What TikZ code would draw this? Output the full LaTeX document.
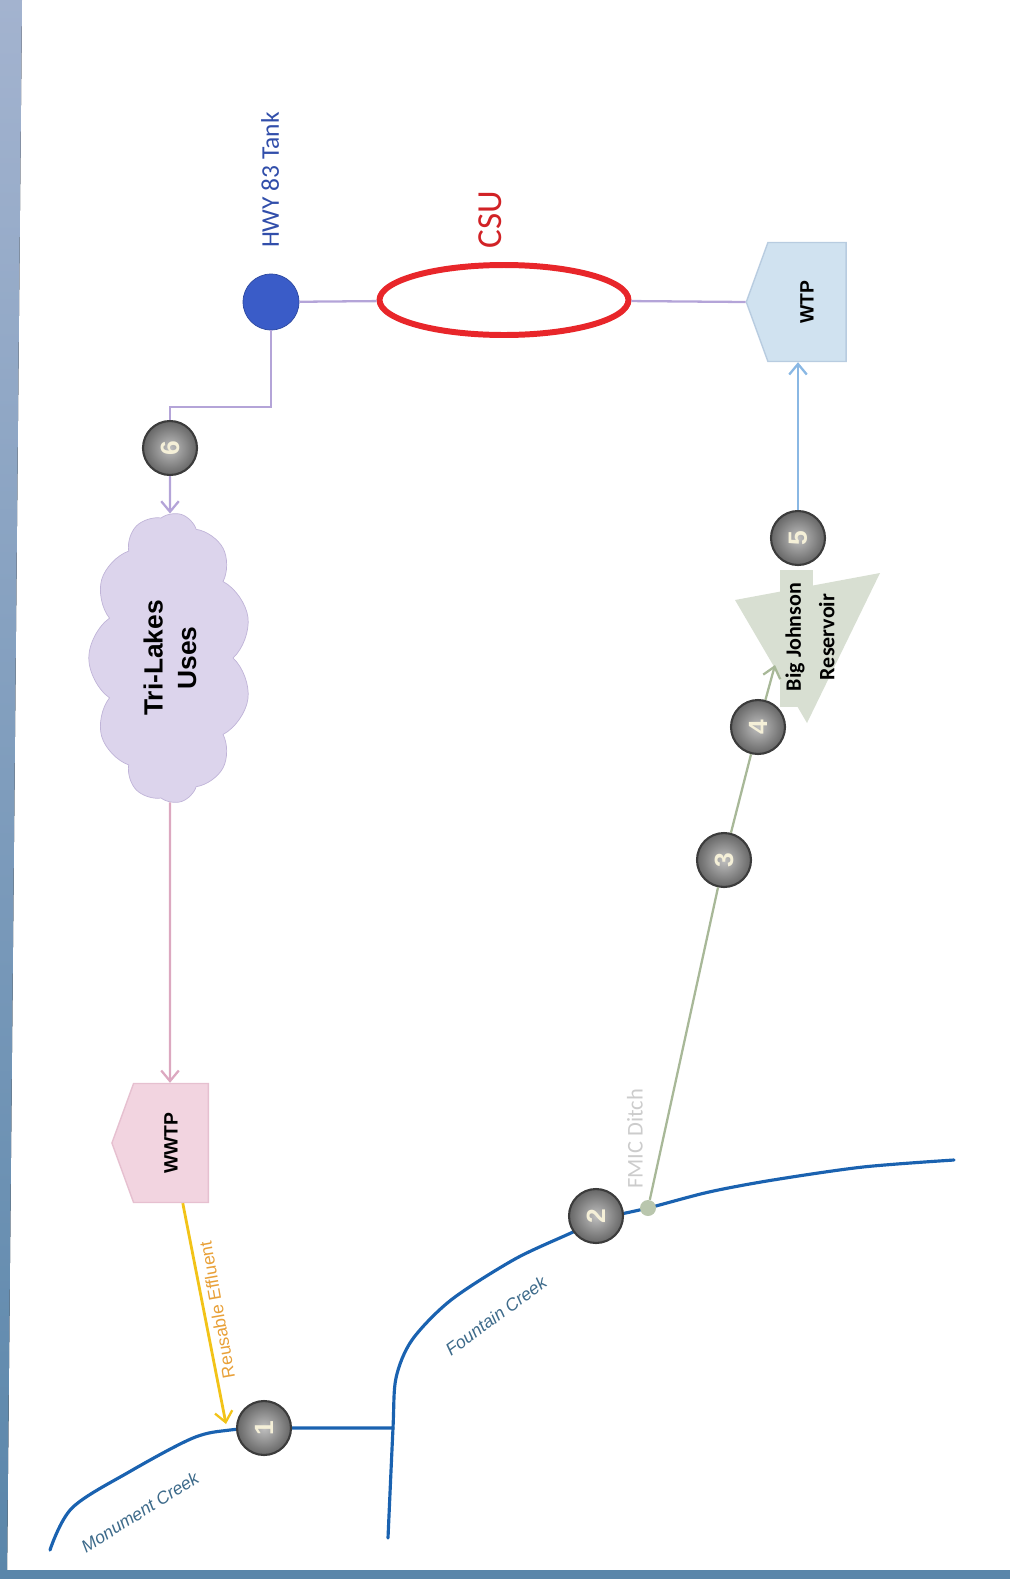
\documentclass[tikz,border=0pt]{standalone}
\usepackage{fontspec}
\setmainfont{Liberation Sans}
\newfontfamily\calib{Carlito}
\usetikzlibrary{shapes.geometric,shapes.symbols,arrows.meta}

\definecolor{framtop}{HTML}{A3B3CF}
\definecolor{frambot}{HTML}{5A86AA}
\definecolor{tankblue}{HTML}{3A5CC8}
\definecolor{pipecol}{HTML}{B4A4D8}
\definecolor{csured}{HTML}{E8262A}
\definecolor{wtpfill}{HTML}{D0E2F0}
\definecolor{wtpdraw}{HTML}{B8CCE0}
\definecolor{bluearr}{HTML}{8AB8E4}
\definecolor{numbdraw}{HTML}{3C3C3C}
\definecolor{numbtxt}{HTML}{F5F0D8}
\definecolor{resfill}{HTML}{D8DFD2}
\definecolor{ditchcol}{HTML}{A8B898}
\definecolor{creekcol}{HTML}{1A62B0}
\definecolor{creektxt}{HTML}{3D6A8A}
\definecolor{cloudfill}{HTML}{DCD4EC}
\definecolor{clouddraw}{HTML}{C0B4D8}
\definecolor{pinkarr}{HTML}{DCA8C0}
\definecolor{wwtpfill}{HTML}{F2D4E0}
\definecolor{wwtpdraw}{HTML}{E6C0D0}
\definecolor{effcol}{HTML}{F2C318}
\definecolor{efftxt}{HTML}{E8A038}

\pgfdeclarelayer{bg}
\pgfsetlayers{bg,main}

\tikzstyle{numb}=[circle, minimum size=1.08cm, inner sep=0pt, draw=numbdraw, line width=1.2pt, inner color=gray!50, outer color=gray!80!black, text=numbtxt, font=\bfseries\fontsize{15}{15}\selectfont, rotate=90]
\tikzstyle{plant}=[signal, signal to=north, signal pointer angle=140, rotate=90, minimum width=2.38cm, minimum height=1.72cm, inner sep=0pt, line width=0.8pt, font=\bfseries\fontsize{11}{13}\selectfont]
\tikzstyle{creek}=[draw=creekcol, line width=1.8pt, line cap=round]
\tikzstyle{creeklbl}=[text=creektxt, font=\itshape\fontsize{10}{12}\selectfont]
\tikzstyle{pipe}=[draw=pipecol, line width=1.3pt]
\tikzstyle{tip}=[-{Straight Barb[length=6pt, width=10pt, line width=1.3pt]}]

\begin{document}
\begin{tikzpicture}[x=0.02cm, y=-0.02cm]
        \useasboundingbox (0,0) rectangle (1010,1579);
        \fill[top color=framtop, bottom color=frambot] (0,0) -- (22,0) -- (7,1579) -- (0,1579) -- cycle;
        \fill[frambot] (0,1570) rectangle (1010,1579);
        %
        \draw (271,302) node[circle, minimum size=1.12cm, fill=tankblue, draw=tankblue!80!black](tank){};
        \draw (270,180) node[rotate=90, text=tankblue!85!black, font=\calib\fontsize{14.5}{16}\selectfont](hwy){HWY 83 Tank};
        \draw (504,300) node[ellipse, draw=csured, line width=3.4pt, minimum width=4.98cm, minimum height=1.4cm](csu){};
        \draw (490,220) node[rotate=90, text=csured!90!black, font=\calib\fontsize{20}{22}\selectfont](csulbl){CSU};
        \draw (807,302) node[plant, fill=wtpfill, draw=wtpdraw](wtp){WTP};
        \coordinate (jog) at (170,407);
        %
        \draw (170,658) node[cloud, cloud puffs=11, cloud puff arc=110, cloud ignores aspect, rotate=90, minimum width=5.8cm, minimum height=3.25cm, fill=cloudfill, draw=clouddraw, align=center, font=\bfseries\fontsize{15}{19}\selectfont](tlu){Tri-Lakes\\Uses};
        \draw (171,1143) node[plant, fill=wwtpfill, draw=wwtpdraw](wwtp){WWTP};
        %
        \fill[resfill] (780,570) rectangle (813,707);
        \fill[resfill] (735,600) -- (880,573) -- (807,723) -- cycle;
        \draw (810,637) node[rotate=90, align=center, font=\calib\bfseries\fontsize{12.5}{19}\selectfont](res){Big Johnson\\Reservoir};
        \coordinate (resin) at (775,665);
        %
        \draw (170,448) node[numb](n6){6};
        \draw (798,538) node[numb](n5){5};
        \draw (758,727) node[numb](n4){4};
        \draw (724,860) node[numb](n3){3};
        \draw (596,1216) node[numb](n2){2};
        \draw (264,1428) node[numb](n1){1};
        %
        \draw (648,1208) node[circle, minimum size=0.32cm, inner sep=0pt, fill=ditchcol!80](ditch){};
        \draw (635,1139) node[rotate=90, text=gray!40, font=\calib\fontsize{12.8}{14}\selectfont](fmic){FMIC Ditch};
        \coordinate (junc) at (393,1428);
        \coordinate (effl) at (226,1424);
        %
        \begin{pgfonlayer}{bg}
        \draw[creek] plot[smooth, tension=0.55] coordinates {(50,1550) (72,1508) (129,1472) (193,1438) (230,1430) (264,1428)} -- (junc);
        \draw[creek] plot[smooth, tension=0.5] coordinates {(388,1538) (393,1428) (396,1378) (412,1340) (451,1300) (515,1259) (573,1232) (596,1220) (648,1208) (709,1192) (773,1180) (863,1167) (954,1160)};
        \end{pgfonlayer}
        \draw (140,1512) node[rotate=32, creeklbl](mclbl){Monument Creek};
        \draw (496,1316) node[rotate=36, creeklbl](fclbl){Fountain Creek};
        \draw (217,1310) node[rotate=100, text=efftxt, font=\fontsize{10}{12}\selectfont](efflbl){Reusable Effluent};
        %
        \path
            (tank)  edge[pipe]                          (csu)
            (csu)   edge[pipe]                          (wtp.north)
            (n5)    edge[draw=bluearr, line width=1.3pt, tip] (n5 |- wtp.west)
            (ditch) edge[draw=ditchcol, line width=1.3pt]      (n3)
            (n3)    edge[draw=ditchcol, line width=1.3pt]      (n4)
            (n4)    edge[draw=ditchcol, line width=1.3pt, tip] (resin)
            (n6)    edge[pipe, tip]                     (tlu)
            (tlu)   edge[draw=pinkarr, line width=1.3pt, tip]  (tlu |- wwtp.east)
            (wwtp)  edge[draw=effcol, line width=1.6pt, tip]   (effl)
        ;
        \draw[pipe] (tank) |- (jog) -- (n6);
\end{tikzpicture}
\end{document}
